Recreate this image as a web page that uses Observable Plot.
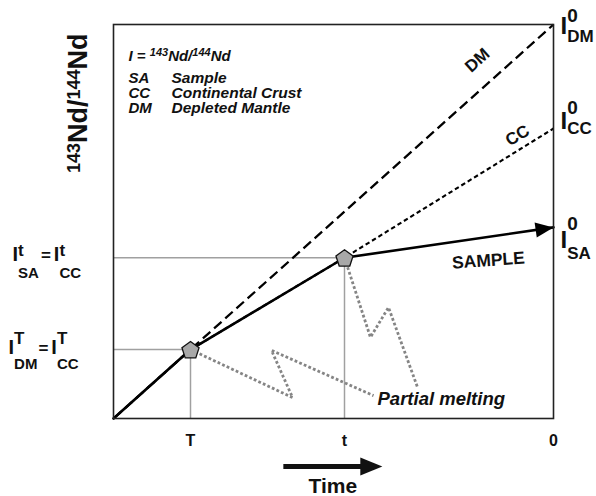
<!DOCTYPE html>
<html>
<head>
<meta charset="utf-8">
<script src="https://cdn.jsdelivr.net/npm/d3@7"></script>
<script src="https://cdn.jsdelivr.net/npm/@observablehq/plot@0.6"></script>
<style>
  body { margin: 0; background: #fff; }
  #chart svg { display: block; }
</style>
</head>
<body>
<div id="chart"></div>
<script>
// Schematic Nd isotope evolution: time runs left to right (1 = present day),
// the 143Nd/144Nd ratio is shown on a normalised scale.
const tickPos = [0.175, 0.525, 1];
const tickLabels = ["T", "t", "0"];

// Melting events: T (crust extracted from mantle) and t (sample formed)
const eventX = [0.175, 0.525];
const eventY = [0.175, 0.408];

// Evolution curves
const dmX = [0, 1];
const dmY = [0, 1];
const ccX = [0, 0.175, 0.525, 1];
const ccY = [0, 0.175, 0.408, 0.736];
const saX = [0, 0.175, 0.525, 1];
const saY = [0, 0.175, 0.408, 0.485];

// Partial-melting paths leaving each event
const melt1X = [0.175, 0.407, 0.359, 0.591];
const melt1Y = [0.175, 0.053, 0.173, 0.058];
const melt2X = [0.525, 0.584, 0.625, 0.691];
const melt2Y = [0.408, 0.206, 0.282, 0.079];

// Direction-of-time arrow under the axis
const timeArrowX = [0.386, 0.611];
const timeArrowY = -0.122;

const legendAbbr = ["SA", "CC", "DM"];
const legendNames = ["Sample", "Continental Crust", "Depleted Mantle"];

// ---- layout ----
const W = 596, H = 496;
const mL = 113, mR = 43, mT = 24, mB = 78;
const plotW = W - mL - mR, plotH = H - mT - mB;
const font = "'Liberation Sans', Arial, Helvetica, sans-serif";

const pts = (X, Y) => X.map((x, i) => ({x, y: Y[i]}));
const events = pts(eventX, eventY);

// custom symbols
const pentagon = {
  draw(ctx) {
    const R = 9;
    for (let k = 0; k < 5; ++k) {
      const a = -Math.PI / 2 + k * 2 * Math.PI / 5;
      const px = R * Math.cos(a), py = R * Math.sin(a) + 1;
      k ? ctx.lineTo(px, py) : ctx.moveTo(px, py);
    }
    ctx.closePath();
  }
};
// filled arrow head with its tip at the anchor point
function arrowHead(angle, len, half) {
  return {
    draw(ctx) {
      const cx = Math.cos(angle), cy = Math.sin(angle);
      const bx = -len * cx, by = -len * cy;
      ctx.moveTo(0, 0);
      ctx.lineTo(bx - half * cy, by + half * cx);
      ctx.lineTo(bx + half * cy, by - half * cx);
      ctx.closePath();
    }
  };
}
const n = saX.length;
const saAngle = Math.atan2(-(saY[n - 1] - saY[n - 2]) * plotH, (saX[n - 1] - saX[n - 2]) * plotW);

const txt = {fill: "#111", fontWeight: "bold", fontFamily: font};
const dashed = {x: "x", y: "y", strokeLinecap: "butt", strokeLinejoin: "miter"};

const chart = Plot.plot({
  width: W, height: H,
  marginLeft: mL, marginRight: mR, marginTop: mT, marginBottom: mB,
  x: {domain: [0, 1], axis: null},
  y: {domain: [0, 1], axis: null},
  style: {fontFamily: font, background: "#fff", overflow: "visible"},
  marks: [
    // guides from each event to the axes
    Plot.ruleY(events, {y: "y", x1: 0, x2: "x", stroke: "#a0a0a0", strokeWidth: 1.5}),
    Plot.ruleX(events, {x: "x", y1: 0, y2: "y", stroke: "#a0a0a0", strokeWidth: 1.5}),
    // depleted mantle and continental crust
    Plot.line(pts(dmX, dmY), {...dashed, stroke: "#000", strokeWidth: 2.3, strokeDasharray: "10,5"}),
    Plot.line(pts(ccX, ccY), {...dashed, stroke: "#000", strokeWidth: 2.1, strokeDasharray: "4.5,3"}),
    // partial melting
    Plot.line(pts(melt1X, melt1Y), {...dashed, stroke: "#858585", strokeWidth: 2.8, strokeDasharray: "2.8,2.2"}),
    Plot.line(pts(melt2X, melt2Y), {...dashed, stroke: "#858585", strokeWidth: 2.8, strokeDasharray: "2.8,2.2"}),
    // sample evolution with arrow
    Plot.line(pts(saX, saY), {x: "x", y: "y", stroke: "#000", strokeWidth: 2.6}),
    Plot.dot([{x: saX[n - 1], y: saY[n - 1]}], {x: "x", y: "y", symbol: arrowHead(saAngle, 18, 7.5), fill: "#000", stroke: "none"}),
    Plot.dot(events, {x: "x", y: "y", symbol: pentagon, fill: "#a8a8a8", stroke: "#111", strokeWidth: 1.3}),
    Plot.frame({stroke: "#222", strokeWidth: 1.6}),
    // time arrow
    Plot.link([0], {x1: timeArrowX[0], x2: timeArrowX[1] - 0.03, y1: timeArrowY, y2: timeArrowY, stroke: "#111", strokeWidth: 5}),
    Plot.dot([0], {x: timeArrowX[1], y: timeArrowY, symbol: arrowHead(0, 22, 9), fill: "#111", stroke: "none"}),
    Plot.text(["Time"], {x: (timeArrowX[0] + timeArrowX[1]) / 2, frameAnchor: "bottom", dy: 74, lineAnchor: "bottom", fontSize: 21, ...txt}),
    // axis labels
    Plot.text(tickLabels, {x: tickPos, text: d => d, frameAnchor: "bottom", dy: 27, lineAnchor: "bottom", fontSize: 16, ...txt}),
    Plot.text(["143Nd/144Nd"], {x: 0, y: 0.80, dx: -27, rotate: -90, lineAnchor: "bottom", fontSize: 27, ...txt}),
    // curve labels
    Plot.text(["DM"], {x: 0.827, y: 0.909, rotate: -42, fontSize: 17, ...txt}),
    Plot.text(["CC"], {x: 0.918, y: 0.718, rotate: -31, fontSize: 17, ...txt}),
    Plot.text(["SAMPLE"], {x: 0.852, y: 0.401, rotate: -4, fontSize: 17.5, ...txt}),
    Plot.text(["Partial melting"], {x: 0.6, y: 0.0355, textAnchor: "start", lineAnchor: "bottom", fontSize: 18.5, fontStyle: "italic", ...txt}),
    // key
    Plot.text(["I = 143Nd/144Nd"], {frameAnchor: "top-left", dx: 15, dy: 36, textAnchor: "start", lineAnchor: "bottom", fontSize: 15, fontStyle: "italic", ...txt}),
    Plot.text(legendAbbr, {x: 0, y: (d, i) => 1 - (58 + 15 * i) / plotH, text: d => d, dx: 15, textAnchor: "start", lineAnchor: "bottom", fontSize: 15, fontStyle: "italic", ...txt}),
    Plot.text(legendNames, {x: 0, y: (d, i) => 1 - (58 + 15 * i) / plotH, text: d => d, dx: 58, textAnchor: "start", lineAnchor: "bottom", fontSize: 15.5, fontStyle: "italic", ...txt}),
    // isotope ratio labels at the events and today
    Plot.text(["ISA=ICC"], {x: 0, y: eventY[1], dx: -101, textAnchor: "start", lineAnchor: "bottom", fontSize: 20, ...txt}),
    Plot.text(["IDM=ICC"], {x: 0, y: eventY[0], dx: -105, textAnchor: "start", lineAnchor: "bottom", fontSize: 20, ...txt}),
    Plot.text(["I0DM"], {x: 1, y: dmY[1], dx: 7, textAnchor: "start", lineAnchor: "bottom", fontSize: 24, ...txt}),
    Plot.text(["I0CC"], {x: 1, y: ccY[3], dx: 7, textAnchor: "start", lineAnchor: "bottom", fontSize: 24, ...txt}),
    Plot.text(["I0SA"], {x: 1, y: saY[3], dx: 7, textAnchor: "start", lineAnchor: "bottom", fontSize: 24, ...txt})
  ]
});

// ---- super/subscript typesetting ----
const ctx2d = document.createElement("canvas").getContext("2d");
function textWidth(s, size, italic) {
  ctx2d.font = `${italic ? "italic " : ""}bold ${size}px ${font}`;
  return ctx2d.measureText(s).width;
}
// parts: [string, fontSize, baseline offset, stacked under previous part, extra gap]
function typeset(key, parts, italic = false) {
  for (const el of chart.querySelectorAll("text")) {
    if (el.textContent !== key) continue;
    el.textContent = "";
    let cur = 0, prevW = 0;
    for (const [s, size, off, stack, gap = 0] of parts) {
      const t = document.createElementNS("http://www.w3.org/2000/svg", "tspan");
      t.setAttribute("font-size", size);
      if (off - cur) t.setAttribute("dy", off - cur);
      const dx = (stack ? -prevW : 0) + gap;
      if (dx) t.setAttribute("dx", dx);
      t.textContent = s;
      el.appendChild(t);
      cur = off;
      prevW = textWidth(s, size, italic);
    }
  }
}
typeset("143Nd/144Nd", [["143", 18, -6.5], ["Nd/", 27, 0], ["144", 18, -6.5], ["Nd", 27, 0]]);
typeset("I = 143Nd/144Nd", [["I = ", 15, 0], ["143", 11, -5], ["Nd/", 15, 0], ["144", 11, -5], ["Nd", 15, 0]], true);
typeset("ISA=ICC", [["I", 20, 3], ["t", 17, -2], ["SA", 15, 20, true], ["=", 17, 3, false, 2], ["I", 20, 3, false, 3], ["t", 17, -2], ["CC", 15, 20, true]]);
typeset("IDM=ICC", [["I", 20, 4], ["T", 17, -6], ["DM", 15, 19, true], ["=", 17, 4, false, 1], ["I", 20, 4, false, 3], ["T", 17, -6], ["CC", 15, 19, true]]);
typeset("I0DM", [["I", 24, 9], ["0", 19, -3], ["DM", 17, 17, true]]);
typeset("I0CC", [["I", 24, 0], ["0", 19, -15], ["CC", 17, 5, true]]);
typeset("I0SA", [["I", 24, 21], ["0", 19, 3], ["SA", 17, 32, true]]);

document.getElementById("chart").append(chart);
</script>
</body>
</html>
